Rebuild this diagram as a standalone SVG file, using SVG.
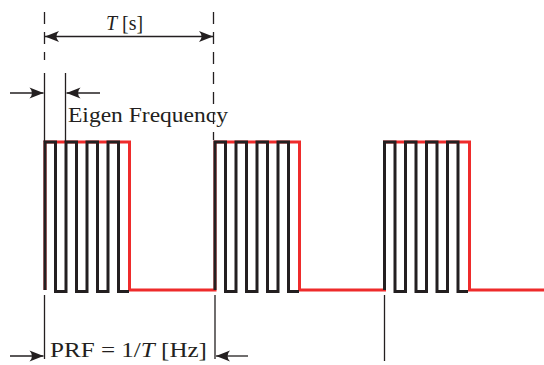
<svg xmlns="http://www.w3.org/2000/svg" width="544" height="365" viewBox="0 0 544 365">
<style>
.thin{stroke:#231f20;stroke-width:1.3;fill:none}
.dash{stroke:#231f20;stroke-width:1.3;fill:none;stroke-dasharray:12 8}
.red{stroke:#ee2b2b;stroke-width:3;fill:none;stroke-linejoin:miter}
.blk{stroke:#231f20;stroke-width:3;fill:none;stroke-linejoin:miter}
.lbl{font-family:"Liberation Serif","Times New Roman",serif;font-size:22px;fill:#231f20}
</style>
<defs>
<marker id="ah" viewBox="-15 -7 16 14" refX="0" refY="0" markerWidth="16" markerHeight="14" markerUnits="userSpaceOnUse" orient="auto-start-reverse">
<path d="M0,0 L-14,-5.5 Q-9,0 -14,5.5 Z" fill="#231f20"/>
</marker>
</defs>
<g id="signal">
<path class="red" d="M45,290 V142 H129.5 V290 H215 V142 H299.5 V290 H384.5 V142 H469.5 V290 H544"/>
<path class="blk" d="M45,290 V142 H55.5 V291.5 H66 V142 H76.5 V291.5 H87 V142 H97.5 V291.5 H108 V142 H118.5 V291.5 H129"/>
<path class="blk" d="M215,290 V142 H225.5 V291.5 H236 V142 H246.5 V291.5 H257 V142 H267.5 V291.5 H278 V142 H288.5 V291.5 H299"/>
<path class="blk" d="M384.5,290 V142 H395 V291.5 H405.5 V142 H416 V291.5 H426.5 V142 H437 V291.5 H447.5 V142 H458 V291.5 H468"/>
</g>
<g id="connectors">
<line class="dash" x1="44.5" y1="12" x2="44.5" y2="60"/>
<line class="dash" x1="213.5" y1="12" x2="213.5" y2="140"/>
<line class="thin" x1="45" y1="36.5" x2="213" y2="36.5" marker-start="url(#ah)" marker-end="url(#ah)"/>
<line class="thin" x1="44.5" y1="73" x2="44.5" y2="142"/>
<line class="thin" x1="65.5" y1="73" x2="65.5" y2="142"/>
<line class="thin" x1="10" y1="93" x2="43.5" y2="93" marker-end="url(#ah)"/>
<line class="thin" x1="100" y1="93" x2="66.5" y2="93" marker-end="url(#ah)"/>
<line class="thin" x1="44.5" y1="295" x2="44.5" y2="359"/>
<line class="thin" x1="215" y1="295" x2="215" y2="359"/>
<line class="thin" x1="384.5" y1="295" x2="384.5" y2="361"/>
<line class="thin" x1="10" y1="356" x2="43.5" y2="356" marker-end="url(#ah)"/>
<line class="thin" x1="248" y1="356" x2="216" y2="356" marker-end="url(#ah)"/>
</g>
<g id="labels">
<text class="lbl" x="106" y="30" textLength="37" lengthAdjust="spacingAndGlyphs"><tspan font-style="italic">T</tspan> [s]</text>
<text class="lbl" x="68" y="122" textLength="160" lengthAdjust="spacingAndGlyphs">Eigen Frequency</text>
<text class="lbl" x="50" y="357" textLength="157" lengthAdjust="spacingAndGlyphs">PRF = 1/<tspan font-style="italic">T</tspan> [Hz]</text>
</g>
</svg>
